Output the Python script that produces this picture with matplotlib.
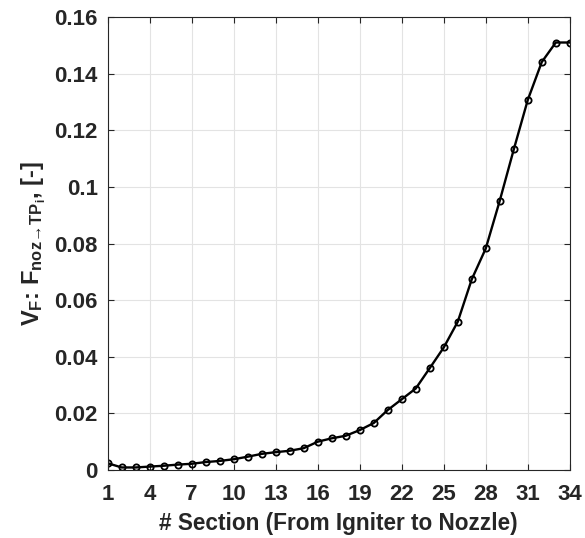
import matplotlib
matplotlib.use("Agg")
import matplotlib.pyplot as plt
from matplotlib.ticker import FuncFormatter

sections = list(range(1, 35))
values = [0.0024, 0.0009, 0.0009, 0.0012, 0.0015, 0.0019, 0.0022, 0.0028, 0.0032, 0.0038,
          0.0047, 0.0057, 0.0063, 0.0068, 0.0077, 0.0100, 0.0112, 0.0121, 0.0141, 0.0166,
          0.0212, 0.0250, 0.0288, 0.0360, 0.0433, 0.0524, 0.0674, 0.0783, 0.0952, 0.1133,
          0.1308, 0.1442, 0.1511, 0.1511]
xticks = list(range(1, 35, 3))
yticks = [0, 0.02, 0.04, 0.06, 0.08, 0.10, 0.12, 0.14, 0.16]

plt.rcParams['font.family'] = ['Liberation Sans', 'DejaVu Sans']
plt.rcParams['mathtext.fontset'] = 'custom'
plt.rcParams['mathtext.rm'] = 'Liberation Sans:bold'
plt.rcParams['mathtext.bf'] = 'Liberation Sans:bold'
plt.rcParams['mathtext.it'] = 'Liberation Sans:bold'
plt.rcParams['mathtext.sf'] = 'Liberation Sans:bold'
plt.rcParams['mathtext.default'] = 'bf'

fig = plt.figure(figsize=(5.85, 5.38), dpi=100)
ax = fig.add_axes([0.184, 0.1264, 0.79, 0.8414])

ax.plot(sections, values, color='black', linewidth=1.7, marker='o', markersize=4.5,
        markerfacecolor='none', markeredgecolor='black', markeredgewidth=1.3)

ax.set_xlim(1, 34)
ax.set_ylim(0, 0.16)
ax.set_xticks(xticks)
ax.set_yticks(yticks)
ax.yaxis.set_major_formatter(FuncFormatter(lambda v, p: '%g' % round(v, 4)))
ax.grid(True, color='#e3e3e3', linewidth=0.8)
ax.set_axisbelow(True)
for s in ax.spines.values():
    s.set_color('#262626')
    s.set_linewidth(0.8)
ax.tick_params(direction='in', length=4, width=0.8, colors='#262626', labelsize=16,
               top=True, right=True)
ax.tick_params(axis='x', pad=10)
ax.tick_params(axis='y', pad=7)
for lab in ax.get_xticklabels() + ax.get_yticklabels():
    lab.set_fontweight('bold')

ax.set_xlabel('# Section (From Igniter to Nozzle)', fontsize=16.3, fontweight='bold',
              color='#262626', labelpad=5)
ax.set_ylabel(r'$V_F$: $F_{noz\!\rightarrow\!TP_i}$, [-]', fontsize=17, fontweight='bold',
              color='#262626', labelpad=5)

fig.savefig('out.png', dpi=100)
